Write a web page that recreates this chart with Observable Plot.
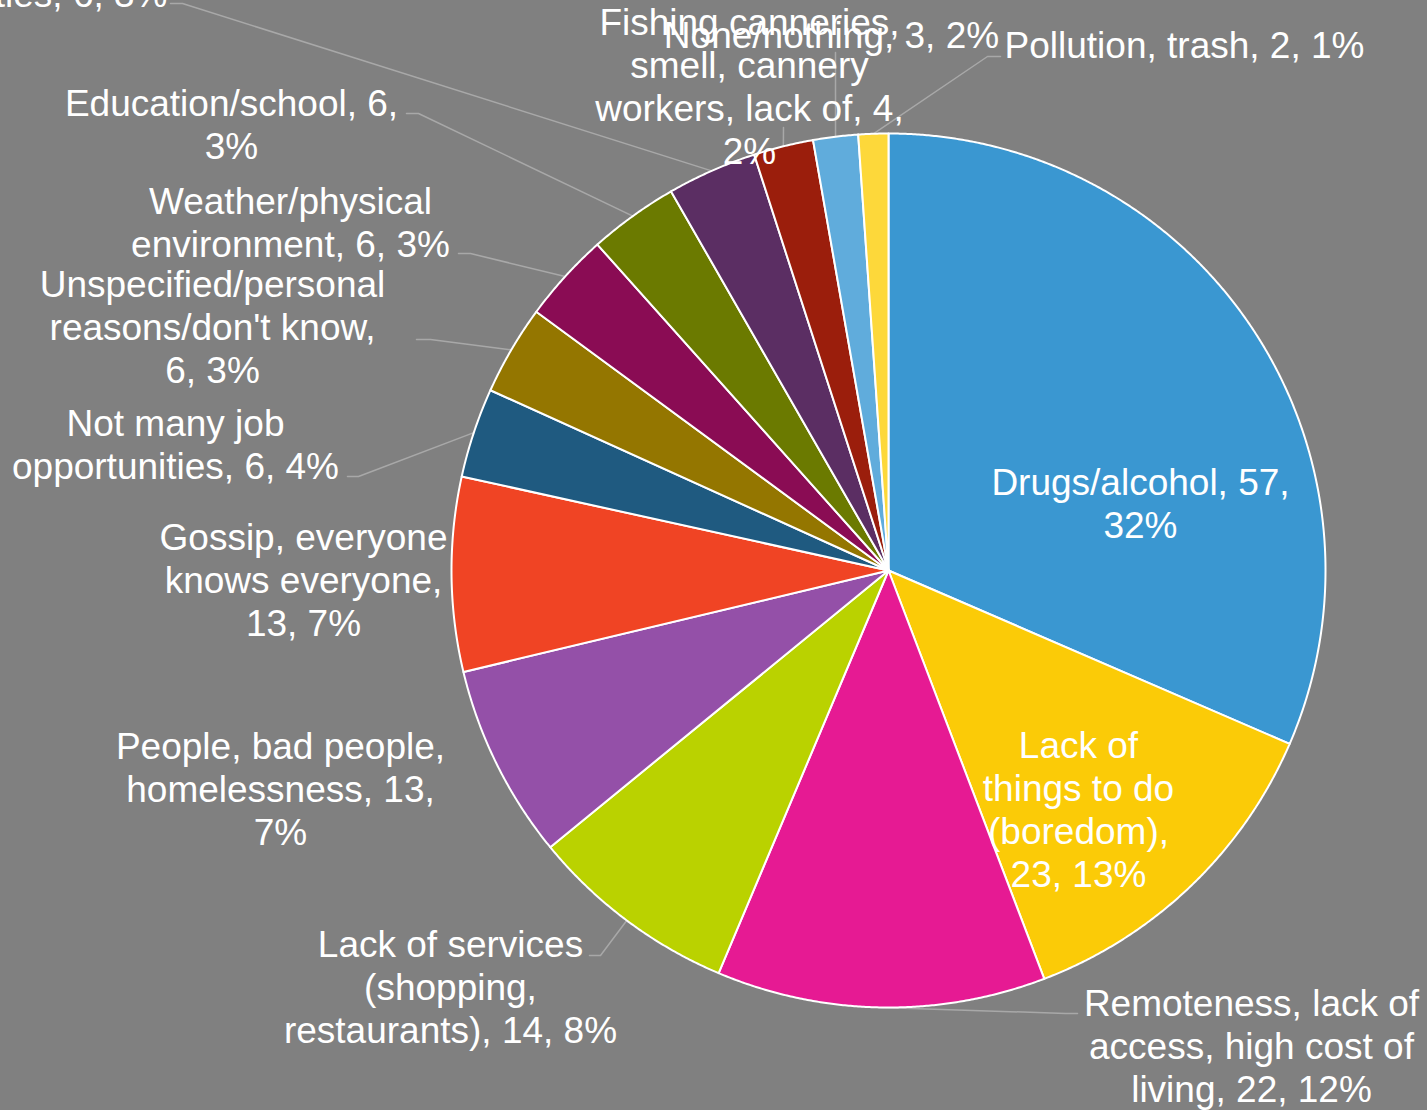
<!DOCTYPE html>
<html>
<head>
<meta charset="utf-8">
<script src="https://cdn.jsdelivr.net/npm/d3@7"></script>
<script src="https://cdn.jsdelivr.net/npm/@observablehq/plot@0.6"></script>
<style>
html,body{margin:0;padding:0;background:#808080;overflow:hidden;}
#chart svg{display:block;}
</style>
</head>
<body>
<div id="chart"></div>
<script>
// ---- data ----
const categories = [
  "Drugs/alcohol",
  "Lack of things to do (boredom)",
  "Remoteness, lack of access, high cost of living",
  "Lack of services (shopping, restaurants)",
  "People, bad people, homelessness",
  "Gossip, everyone knows everyone",
  "Not many job opportunities",
  "Unspecified/personal reasons/don't know",
  "Weather/physical environment",
  "Education/school",
  "Lack of activities",
  "Fishing canneries, smell, cannery workers, lack of",
  "None/nothing",
  "Pollution, trash"
];
const counts = [57, 23, 22, 14, 13, 13, 6, 6, 6, 6, 6, 4, 3, 2];
const percents = [32, 13, 12, 8, 7, 7, 4, 3, 3, 3, 3, 2, 2, 1];
const labelTexts = [
  "Drugs/alcohol, 57,\n32%",
  "Lack of\nthings to do\n(boredom),\n23, 13%",
  "Remoteness, lack of\naccess, high cost of\nliving, 22, 12%",
  "Lack of services\n(shopping,\nrestaurants), 14, 8%",
  "People, bad people,\nhomelessness, 13,\n7%",
  "Gossip, everyone\nknows everyone,\n13, 7%",
  "Not many job\nopportunities, 6, 4%",
  "Unspecified/personal\nreasons/don't know,\n6, 3%",
  "Weather/physical\nenvironment, 6, 3%",
  "Education/school, 6,\n3%",
  "Lack of activities, 6, 3%",
  "Fishing canneries,\nsmell, cannery\nworkers, lack of, 4,\n2%",
  "None/nothing, 3, 2%",
  "Pollution, trash, 2, 1%"
];
const sliceColors = [
  "#3A97D1", "#FBCB07", "#E61A93", "#BAD200", "#9450A8", "#F04424", "#1F5A80",
  "#947600", "#8A0C54", "#6B7A00", "#5B2E63", "#9B1E0C", "#60ACDC", "#FDD83A"
];

// ---- layout (pixels) ----
const W = 1427, H = 1110;
const CX = 888, CY = 570, R = 437;
const labelX = [1140, 1078, 1251, 450, 280, 303, 175, 212, 290, 231, 167, 749, 831, 1184];
const labelY = [502, 808, 1045, 986, 788, 579, 443, 326, 221, 123, -7, 85, 34, 44];
const labelAnchor = ["middle","middle","middle","middle","middle","middle","middle","middle","middle","middle","end","middle","middle","middle"];
// leader lines: slice index -> extra points after the arc midpoint
const leaders = [
  {i: 2,  pts: [[1065, 1013], [1077, 1013]]},
  {i: 3,  pts: [[600, 955], [589, 955]]},
  {i: 6,  pts: [[358, 476], [347, 476]]},
  {i: 7,  pts: [[430, 339], [416, 339]]},
  {i: 8,  pts: [[470, 253], [458, 253]]},
  {i: 9,  pts: [[418, 113], [406, 113]]},
  {i: 10, pts: [[182, 3], [170, 3]]},
  {i: 11, pts: [[783, 127]]},
  {i: 12, pts: [[835, 52]]},
  {i: 13, pts: [[987, 56], [1000, 56]]}
];

// ---- geometry from data ----
const rows = categories.map((name, i) => ({name, value: counts[i], pct: percents[i]}));
const arcs = d3.pie().sort(null).value(d => d.value)(rows);
const polar = (a, r) => [CX + r * Math.sin(a), CY - r * Math.cos(a)];

const slicePts = [];
arcs.forEach(a => {
  const name = a.data.name;
  slicePts.push({name, x: CX, y: CY});
  const n = Math.max(2, Math.ceil((a.endAngle - a.startAngle) / (Math.PI / 720)));
  for (let k = 0; k <= n; k++) {
    const ang = a.startAngle + (a.endAngle - a.startAngle) * k / n;
    const [x, y] = polar(ang, R);
    slicePts.push({name, x, y});
  }
  slicePts.push({name, x: CX, y: CY});
});

const leaderPts = [];
leaders.forEach(l => {
  const a = arcs[l.i];
  const mid = (a.startAngle + a.endAngle) / 2;
  const [x0, y0] = polar(mid, R);
  leaderPts.push({id: l.i, x: x0, y: y0});
  l.pts.forEach(p => leaderPts.push({id: l.i, x: p[0], y: p[1]}));
});

const labels = rows.map((d, i) => ({text: labelTexts[i], x: labelX[i], y: labelY[i], anchor: labelAnchor[i]}));

const textOpts = {
  x: "x", y: "y", text: "text", fill: "white", fontSize: 37, lineHeight: 1.165,
  fontFamily: "'Liberation Sans', Arial, sans-serif", lineAnchor: "middle"
};

const chart = Plot.plot({
  width: W,
  height: H,
  margin: 0,
  style: {background: "#808080", overflow: "hidden"},
  x: {domain: [0, W], range: [0, W], axis: null},
  y: {domain: [0, H], range: [0, H], axis: null},
  color: {domain: categories, range: sliceColors},
  marks: [
    Plot.line(leaderPts, {x: "x", y: "y", z: "id", stroke: "#A8A8A8", strokeWidth: 1.5}),
    Plot.line(slicePts, {x: "x", y: "y", z: "name", fill: "name", stroke: "white", strokeWidth: 2, strokeLinejoin: "round"}),
    Plot.text(labels.filter(d => d.anchor === "middle"), {...textOpts, textAnchor: "middle"}),
    Plot.text(labels.filter(d => d.anchor === "end"), {...textOpts, textAnchor: "end"})
  ]
});
document.getElementById("chart").appendChild(chart);
</script>
</body>
</html>
